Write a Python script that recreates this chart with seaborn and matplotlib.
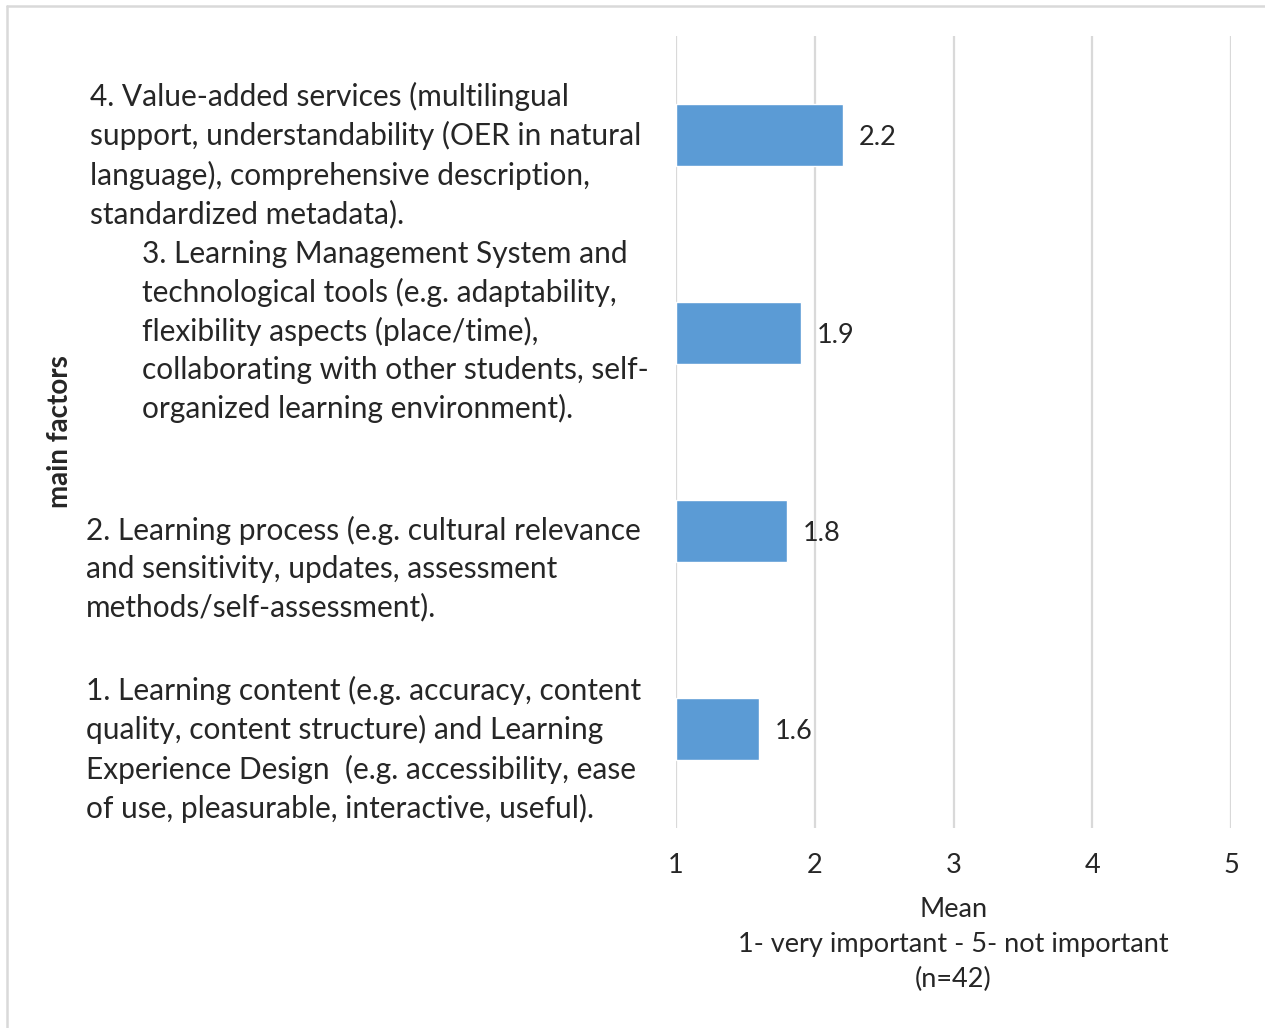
import matplotlib
matplotlib.use("Agg")
import matplotlib.pyplot as plt
import seaborn as sns
import pandas as pd
from matplotlib.lines import Line2D

# Factors (top to bottom as drawn) and their mean ratings
factors = [
    "4. Value-added services (multilingual\nsupport, understandability (OER in natural\nlanguage), comprehensive description,\nstandardized metadata).",
    "3. Learning Management System and\ntechnological tools (e.g. adaptability,\nflexibility aspects (place/time),\ncollaborating with other students, self-\norganized learning environment).",
    "2. Learning process (e.g. cultural relevance\nand sensitivity, updates, assessment\nmethods/self-assessment).",
    "1. Learning content (e.g. accuracy, content\nquality, content structure) and Learning\nExperience Design  (e.g. accessibility, ease\nof use, pleasurable, interactive, useful).",
]
means = [2.2, 1.9, 1.8, 1.6]
value_labels = ["2.2", "1.9", "1.8", "1.6"]
x_ticks = [1, 2, 3, 4, 5]

# Where each factor text block sits: left edge (px) and top of first line (px)
label_left_px = [90, 142, 86, 86]
label_top_px = [82, 240, 516, 676]

sns.set_theme(style="white")
plt.rcParams["font.family"] = ["Lato", "DejaVu Sans"]

W, H = 1265, 1028
fig = plt.figure(figsize=(W / 100, H / 100), dpi=100)
ax = fig.add_axes([676 / W, 1 - 828 / H, (1231 - 676) / W, (828 - 36) / H])

df = pd.DataFrame({"factor": factors, "mean": means})
base = 1.0
sns.barplot(data=df, y="factor", x=[m - base for m in means], left=base,
            orient="h", color="#5B9BD5", saturation=1, width=0.31, ax=ax)

ax.set_xlim(1, 5)
ax.set_ylim(3.5, -0.5)
ax.set_xticks(x_ticks)
ax.set_xticklabels([str(t) for t in x_ticks], fontsize=19.5)
ax.tick_params(axis="x", length=0, pad=18)
ax.set_yticks([])
ax.grid(axis="x", color="#d9d9d9", linewidth=1.6)
ax.set_axisbelow(True)
for s in ax.spines.values():
    s.set_visible(False)

ax.set_xlabel("Mean\n1- very important - 5- not important\n(n=42)", fontsize=19.5,
              linespacing=1.48, labelpad=14)
ax.set_ylabel("")
fig.text(60 / W, 1 - 432 / H, "main factors", rotation=90, fontsize=20,
         fontweight="bold", ha="center", va="center")

# Value labels next to each bar
for i, (m, lab) in enumerate(zip(means, value_labels)):
    ax.annotate(lab, xy=(m, i), xytext=(16, 0), textcoords="offset pixels",
                ha="left", va="center_baseline", fontsize=19.5)

# Factor descriptions
for txt, lx, ty in zip(factors, label_left_px, label_top_px):
    fig.text(lx / W, 1 - ty / H, txt, ha="left", va="top", fontsize=21.5,
             linespacing=1.42)

# Chart frame (top and left edges)
fig.add_artist(Line2D([7 / W, 7 / W], [0, 1 - 6 / H], transform=fig.transFigure,
                      color="#d9d9d9", linewidth=1.8))
fig.add_artist(Line2D([7 / W, 1], [1 - 6 / H, 1 - 6 / H], transform=fig.transFigure,
                      color="#d9d9d9", linewidth=1.8))

fig.savefig("out.png", dpi=100, facecolor="white")
